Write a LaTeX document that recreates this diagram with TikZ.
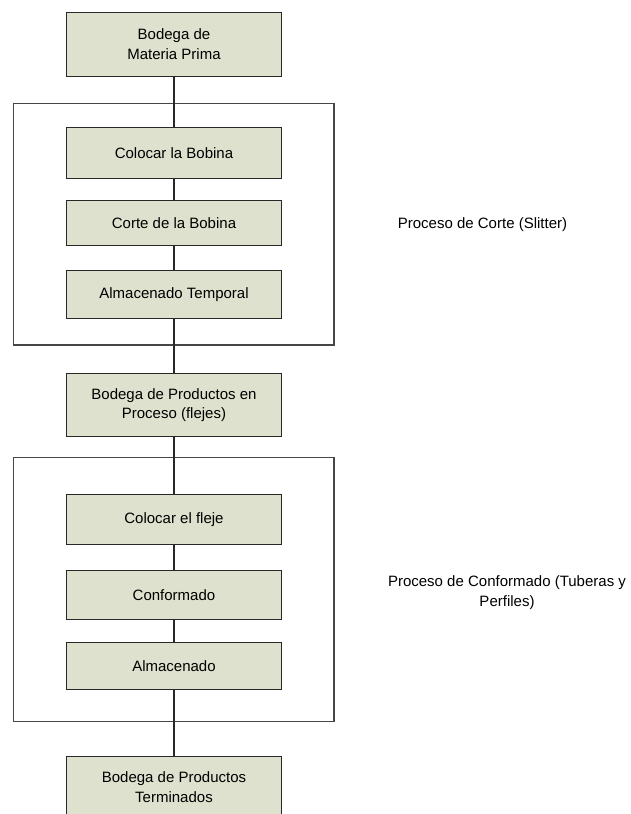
\documentclass[tikz,border=0pt]{standalone}
\usepackage{fontspec}
\setmainfont{Liberation Sans}
\begin{document}
\definecolor{boxfill}{RGB}{222,225,205}
\definecolor{edge}{RGB}{40,40,40}
\definecolor{framecol}{RGB}{70,70,70}
\begin{tikzpicture}[x=1pt,y=-1pt,
  proc/.style={draw=edge,line width=0.9pt,fill=boxfill,minimum width=214.3pt,
    inner sep=0pt,outer sep=0pt,align=center,
    font=\fontsize{15}{19.5}\selectfont},
  group/.style={draw=framecol,line width=1.1pt,inner sep=0pt,outer sep=0pt,
    minimum width=320.7pt},
  link/.style={draw=edge,line width=1.2pt},
  note/.style={align=center,font=\fontsize{15}{19.5}\selectfont}]
\useasboundingbox (0,0) rectangle (631,814);
\clip (0,0) rectangle (631,814);

% process groups
\node[group,minimum height=241.7pt] (g1) at (173.65,224.15) {};
\node[group,minimum height=264.4pt] (g2) at (173.65,589.5) {};

% steps
\node[proc,minimum height=63.7pt] (b0) at (174,44.2) {Bodega de\\Materia Prima};
\node[proc,minimum height=50.6pt] (b1) at (174,153) {Colocar la Bobina};
\node[proc,minimum height=45.7pt] (b2) at (174,222.9) {Corte de la Bobina};
\node[proc,minimum height=48.3pt] (b3) at (174,294.2) {Almacenado Temporal};
\node[proc,minimum height=63.4pt] (b4) at (174,405) {Bodega de Productos en\\Proceso (flejes)};
\node[proc,minimum height=49.7pt] (b5) at (174,519.2) {Colocar el fleje};
\node[proc,minimum height=48.6pt] (b6) at (174,595) {Conformado};
\node[proc,minimum height=47.3pt] (b7) at (174,665.7) {Almacenado};
\node[proc,minimum height=61pt] (b8) at (174,787.2) {Bodega de Productos\\Terminados};

% connectors
\draw[link] (b0) -- (b1);
\draw[link] (b1) -- (b2);
\draw[link] (b2) -- (b3);
\draw[link] (b3) -- (b4);
\draw[link] (b4) -- (b5);
\draw[link] (b5) -- (b6);
\draw[link] (b6) -- (b7);
\draw[link] (b7) -- (b8);

% group labels
\node[note] (n1) at (482.5,224.5) {Proceso de Corte (Slitter)};
\node[note] (n2) at (507,592.5) {Proceso de Conformado (Tuberas y\\Perfiles)};
\end{tikzpicture}
\end{document}
